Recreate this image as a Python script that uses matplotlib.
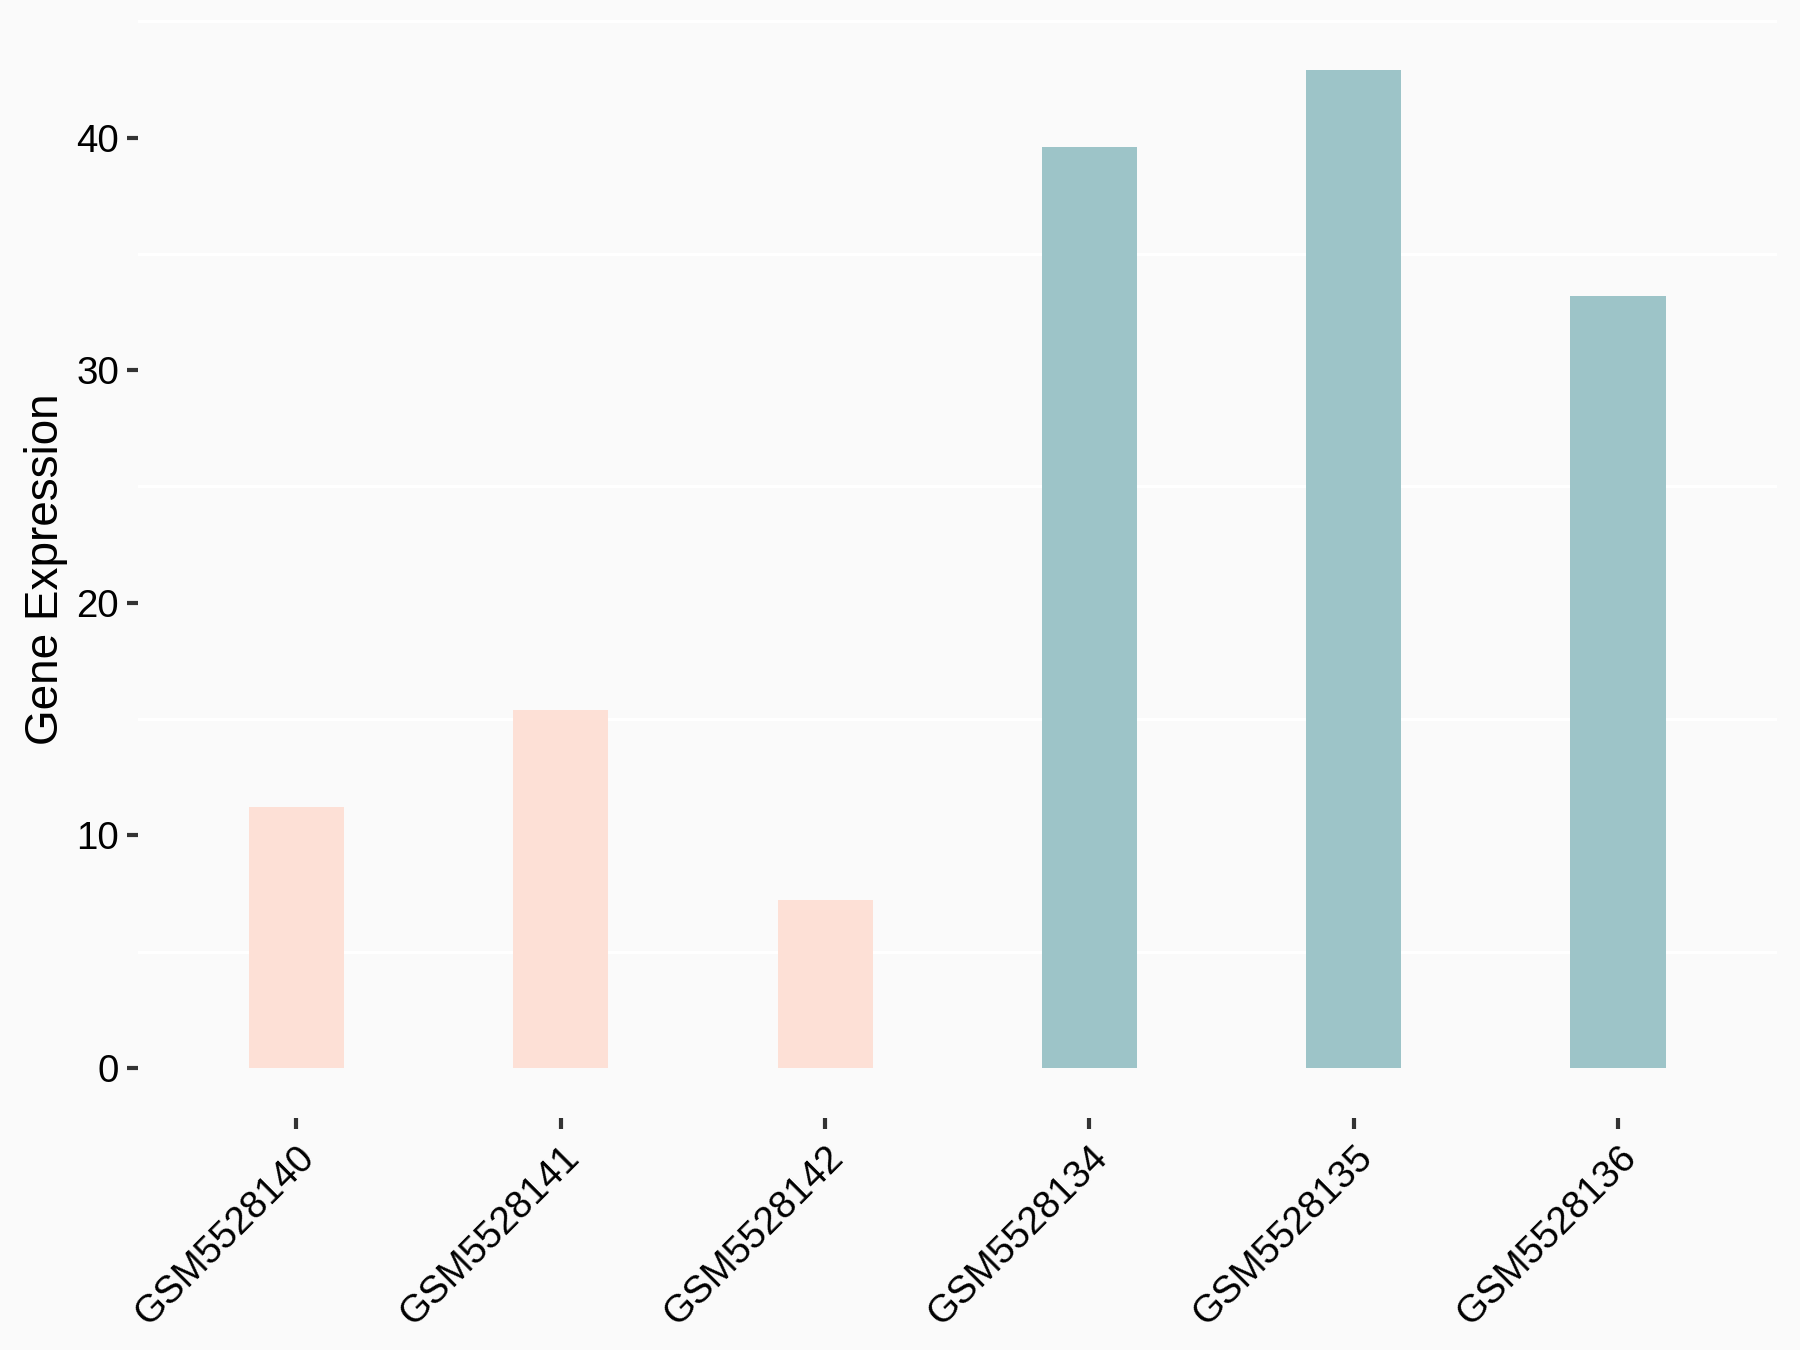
import matplotlib

matplotlib.use("Agg")
import matplotlib.pyplot as plt

samples = ["GSM5528140", "GSM5528141", "GSM5528142",
           "GSM5528134", "GSM5528135", "GSM5528136"]
expression = [11.2, 15.4, 7.2, 39.6, 42.9, 33.2]
groups = ["a", "a", "a", "b", "b", "b"]
group_colors = {"a": "#FDE0D6", "b": "#9DC4C8"}
y_ticks = [0, 10, 20, 30, 40]
minor_grid = [5, 15, 25, 35, 45]

plt.rcParams["font.family"] = ["Liberation Sans", "DejaVu Sans"]

bg = "#FAFAFA"
fig = plt.figure(figsize=(12, 9), dpi=150, facecolor=bg)
ax = fig.add_axes([0.0766, 0.172, 0.9104, 0.813], facecolor=bg)

x = list(range(len(samples)))
ax.bar(x, expression, width=0.36, color=[group_colors[g] for g in groups],
       zorder=2, linewidth=0)

for v in minor_grid:
    ax.axhline(v, color="white", lw=1.6, zorder=1)

ymax = max(expression)
ax.set_ylim(-0.05 * ymax, ymax * 1.05)
ax.set_xlim(-0.6, len(samples) - 0.4)

ax.set_yticks(y_ticks)
ax.set_xticks(x)
ax.set_xticklabels(samples, rotation=45, ha="right", va="top",
                   rotation_mode="anchor")
ax.tick_params(axis="both", colors="#333333", length=5.5, width=2.0,
               labelsize=18.5, labelcolor="black")
ax.tick_params(axis="y", pad=3.5)
ax.tick_params(axis="x", pad=5)

for s in ax.spines.values():
    s.set_visible(False)

ax.set_ylabel("Gene Expression", fontsize=22, labelpad=4)

fig.savefig("out.png", dpi=150, facecolor=bg)
